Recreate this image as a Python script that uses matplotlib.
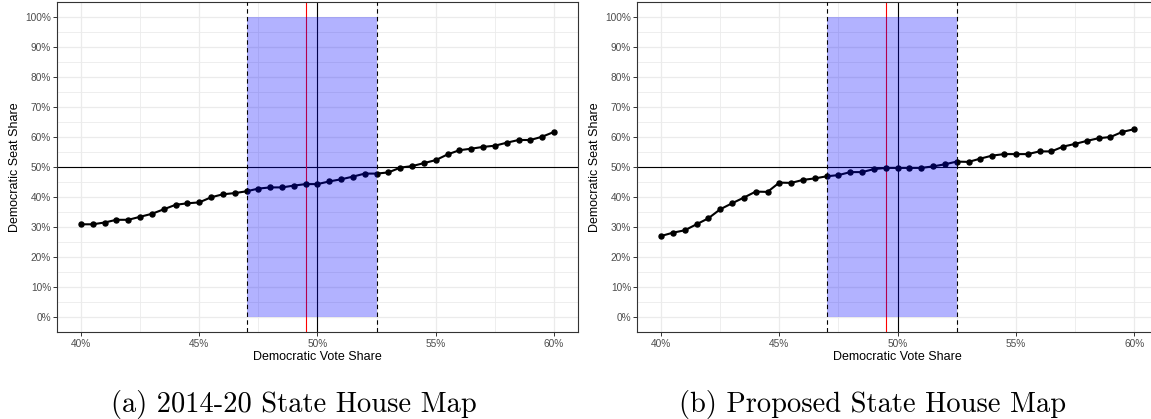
import matplotlib
matplotlib.use('Agg')
import matplotlib.pyplot as plt

# vote share grid (percent)
vote_share = [40.0, 40.5, 41.0, 41.5, 42.0, 42.5, 43.0, 43.5, 44.0, 44.5,
              45.0, 45.5, 46.0, 46.5, 47.0, 47.5, 48.0, 48.5, 49.0, 49.5,
              50.0, 50.5, 51.0, 51.5, 52.0, 52.5, 53.0, 53.5, 54.0, 54.5,
              55.0, 55.5, 56.0, 56.5, 57.0, 57.5, 58.0, 58.5, 59.0, 59.5,
              60.0]

# seat share, 2014-20 map
seats_current = [31.0, 31.0, 31.6, 32.5, 32.5, 33.5, 34.5, 36.0, 37.5, 38.0,
                 38.3, 40.0, 41.0, 41.4, 42.0, 42.9, 43.3, 43.3, 43.9, 44.4,
                 44.4, 45.3, 46.0, 46.9, 47.9, 47.9, 48.3, 49.9, 50.4, 51.4,
                 52.4, 54.3, 55.7, 56.2, 56.8, 57.2, 58.2, 59.1, 59.1, 60.2,
                 61.8]

# seat share, proposed map
seats_proposed = [27.1, 28.2, 29.0, 31.0, 33.0, 36.0, 38.0, 39.9, 41.9, 41.8,
                  44.9, 44.8, 45.8, 46.3, 47.0, 47.4, 48.4, 48.4, 49.4, 49.8,
                  49.8, 49.8, 49.8, 50.3, 51.0, 51.9, 51.8, 52.9, 53.9, 54.4,
                  54.4, 54.4, 55.3, 55.3, 56.9, 57.8, 58.8, 59.7, 60.1, 61.8,
                  62.7]

band_lo, band_hi = 47.0, 52.5
actual_vote = 49.5
captions = ['(a) 2014-20 State House Map', '(b) Proposed State House Map']

x_major = [40, 45, 50, 55, 60]
x_minor = [42.5, 47.5, 52.5, 57.5]
y_major = [0, 10, 20, 30, 40, 50, 60, 70, 80, 90, 100]
y_minor = [5, 15, 25, 35, 45, 55, 65, 75, 85, 95]


def draw_panel(ax, seats):
    ax.set_xlim(39, 61)
    ax.set_ylim(-5, 105)
    ax.set_axisbelow(True)

    ax.set_xticks(x_major)
    ax.set_xticklabels(['%d%%' % v for v in x_major])
    ax.set_xticks(x_minor, minor=True)
    ax.set_yticks(y_major)
    ax.set_yticklabels(['%d%%' % v for v in y_major])
    ax.set_yticks(y_minor, minor=True)

    ax.grid(which='major', color='#EBEBEB', lw=0.9)
    ax.grid(which='minor', color='#EBEBEB', lw=0.6)
    ax.tick_params(which='major', length=3, width=0.7, color='#333333',
                   labelsize=7.3, labelcolor='#4D4D4D', pad=1.5)
    ax.tick_params(which='minor', length=0)
    for s in ax.spines.values():
        s.set_color('#333333')
        s.set_linewidth(0.8)

    ax.axhline(50, color='black', lw=0.8, zorder=2)
    ax.axvline(actual_vote, color='red', lw=0.8, zorder=2)
    ax.axvline(50, color='black', lw=0.8, zorder=2)

    ax.plot(vote_share, seats, color='black', lw=1.5, marker='o', ms=3.6, zorder=3)

    ax.fill_between([band_lo, band_hi], 0, 100, color='blue', alpha=0.3, lw=0, zorder=4)
    ax.axvline(band_lo, color='black', lw=0.8, ls=(0, (4, 3)), zorder=5)
    ax.axvline(band_hi, color='black', lw=0.8, ls=(0, (4, 3)), zorder=5)

    ax.set_xlabel('Democratic Vote Share', fontsize=9, family='Liberation Sans', labelpad=2)
    ax.set_ylabel('Democratic Seat Share', fontsize=9, family='Liberation Sans', labelpad=3)
    for t in ax.get_xticklabels() + ax.get_yticklabels():
        t.set_family('Liberation Sans')


if __name__ == '__main__':
    W, H = 1151, 419
    fig = plt.figure(figsize=(W / 100, H / 100), dpi=100)

    ax1 = fig.add_axes([57.3 / W, (H - 332.3) / H, 520.4 / W, 330 / H])
    ax2 = fig.add_axes([637.4 / W, (H - 332.3) / H, 520.4 / W, 330 / H])
    draw_panel(ax1, seats_current)
    draw_panel(ax2, seats_proposed)

    fig.text(293.5 / W, (H - 411.5) / H, captions[0], family='cmr10',
             fontsize=20.5, ha='center', va='baseline')
    fig.text(873 / W, (H - 411.5) / H, captions[1], family='cmr10',
             fontsize=20.5, ha='center', va='baseline')

    plt.savefig('out.png', dpi=100)
